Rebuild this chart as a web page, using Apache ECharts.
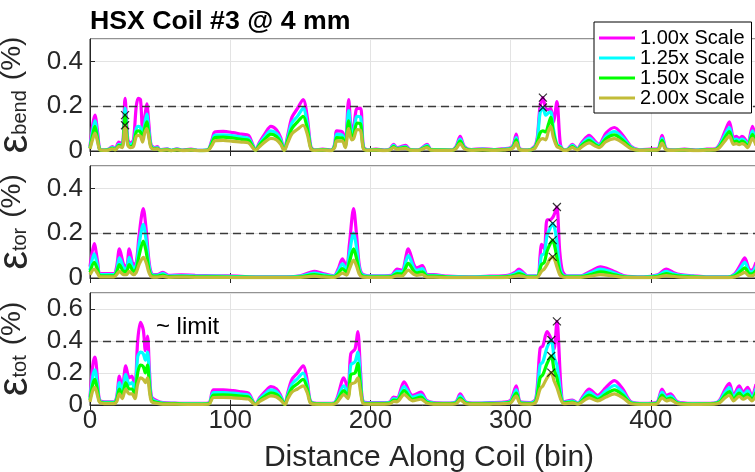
<!DOCTYPE html>
<html><head><meta charset="utf-8">
<script src="https://cdn.jsdelivr.net/npm/echarts@6/dist/echarts.min.js"></script>
<style>html,body{margin:0;padding:0;background:#fff}#c{width:755px;height:472px}</style>
</head><body><div id="c"></div>
<script>
// ---------------- DATA ----------------
const seriesNames = ['1.00x Scale', '1.25x Scale', '1.50x Scale', '2.00x Scale'];
const xTicks = [0, 100, 200, 300, 400];
const yLimits = [0.5, 0.5, 0.7];
const limitLines = [0.2, 0.2, 0.4];
const limitText = '~ limit';
const limitTextPos = [47, 0.488];

// Panel 1: bending strain
const bins1 = [0,2,3.5,5.5,7, 10,13,16,18,20.5, 23,25,27,29,31, 33,34.5,36,37.5,39, 40.5,42,43.5,46,48,
  50,55,58,62,66, 72,78,84,87,89, 95,102,108,113,116, 118,121,125,129,133, 136,138.5,141,144,148,
  152,155,157.5,160,166, 172,174.5,176,180,182, 184.5,186.5,188,190.5,193, 195,198,204,210,214,
  216.5,219,222,225,228, 234,240.5,243,250,258, 261,264,267,272,280, 288,295,300,302,304,
  306.5,312,317,319,321, 323,325,327,328.6,330.5, 333,335.5,338,341,344, 347.5,351,356,360,363,
  368,374,380,386,392, 400,405,408,411,416, 424,432,440,446,449, 453,456,459,461,463, 465,467,469,472.5,475];
const bend100 = [.02,.12,.16,.08,.01, .005,.008,.02,.01,.04, .03,.235,.05,.035,.05, .2,.235,.23,.1,.15, .21,.12,.03,.015,.02,
  .005,.01,.003,.01,.004, .008,.003,.006,.05,.085, .088,.082,.075,.07,.03, .005,.04,.08,.11,.095, .06,.005,.07,.15,.19,
  .23,.15,.02,.005,.008, .004,.03,.09,.085,.03, .23,.1,.11,.19,.19, .02,.005,.008,.004,.01,
  .03,.015,.02,.025,.008, .005,.03,.008,.006,.005, .02,.065,.02,.006,.01, .006,.01,.015,.03,.075,
  .01,.005,.02,.06,.2, .238,.19,.185,.19,.13, .22,.03,.005,.01,.03, .01,.04,.07,.045,.03,
  .08,.105,.07,.02,.005, .008,.01,.07,.01,.005, .008,.004,.008,.01,.03, .09,.13,.06,.065,.055, .065,.055,.03,.11,.05];
const bend125 = [.015,.095,.135,.06,.008, .004,.006,.015,.008,.03, .025,.19,.04,.03,.04, .1,.11,.105,.06,.12, .165,.09,.025,.012,.015,
  .004,.008,.003,.008,.003, .006,.003,.005,.04,.07, .072,.068,.062,.057,.025, .004,.033,.066,.09,.078, .05,.004,.058,.125,.155,
  .19,.12,.016,.004,.006, .003,.025,.075,.07,.025, .18,.08,.09,.155,.15, .016,.004,.006,.003,.008,
  .025,.012,.016,.02,.006, .004,.025,.006,.005,.004, .016,.053,.016,.005,.008, .005,.008,.012,.025,.06,
  .008,.004,.016,.05,.17, .194,.16,.17,.175,.1, .03,.02,.004,.008,.025, .008,.033,.058,.037,.025,
  .065,.087,.058,.016,.004, .006,.008,.057,.008,.004, .006,.003,.006,.008,.025, .074,.105,.05,.053,.045, .053,.045,.025,.09,.04];
const bend150 = [.012,.075,.11,.05,.006, .003,.005,.012,.006,.025, .02,.16,.03,.02,.03, .085,.09,.085,.05,.1, .13,.07,.02,.01,.012,
  .003,.006,.002,.006,.003, .005,.002,.004,.035,.06, .062,.058,.052,.048,.02, .003,.028,.055,.075,.065, .04,.003,.048,.1,.13,
  .155,.1,.013,.003,.005, .003,.02,.06,.058,.02, .135,.065,.07,.125,.12, .013,.003,.005,.003,.006,
  .02,.01,.013,.016,.005, .003,.02,.005,.004,.003, .013,.044,.013,.004,.006, .004,.006,.01,.02,.05,
  .006,.003,.013,.04,.08, .09,.085,.12,.15,.08, .025,.015,.003,.006,.02, .006,.027,.048,.03,.02,
  .055,.072,.048,.013,.003, .005,.006,.047,.006,.003, .005,.003,.005,.006,.02, .061,.087,.04,.044,.037, .044,.037,.02,.074,.033];
const bend200 = [.01,.055,.08,.04,.005, .003,.004,.01,.005,.02, .015,.115,.025,.015,.02, .065,.07,.065,.04,.08, .1,.06,.015,.008,.01,
  .003,.005,.002,.005,.002, .004,.002,.003,.025,.045, .047,.043,.04,.036,.015, .003,.02,.042,.056,.05, .03,.003,.036,.077,.097,
  .115,.075,.01,.003,.004, .002,.015,.045,.044,.015, .1,.05,.055,.095,.09, .01,.003,.004,.002,.005,
  .015,.008,.01,.012,.004, .003,.015,.004,.003,.003, .01,.033,.01,.003,.005, .003,.005,.008,.015,.038,
  .005,.003,.01,.03,.05, .055,.05,.09,.11,.06, .02,.012,.003,.005,.015, .005,.02,.036,.023,.015,
  .042,.055,.036,.01,.003, .004,.005,.035,.005,.003, .004,.002,.004,.005,.015, .046,.066,.03,.033,.028, .033,.028,.015,.056,.025];
const peakX1 = [323, 323, 25, 25];
const peakY1 = [0.238, 0.194, 0.16, 0.115];

// Panel 2: torsional strain
const bins2 = [0,3,5.5,7,12, 17,19,21,24,26, 28,31,33,35,38, 40,42,44,48,52, 56,65,75,90,105, 120,140,150,160,166,
  174,177,180,183,185, 188,190,192,194,200, 210,215,219,222.5,227, 231,233,237,240.5,245, 255,270,285,298,303,
  306,309,312,319,321, 322,324,326,328,330, 331.5,333,335,337,340, 350,357,364,372,381, 395,405,411,416,421,
  430,440,455,460,464, 467,470,472,475];
const tor100 = [.05,.154,.07,.02,.02, .02,.05,.13,.06,.05, .13,.06,.07,.19,.31, .22,.08,.02,.015,.025, .012,.014,.012,.01,.008, .005,.005,.01,.03,.02,
  .01,.04,.085,.05,.15, .31,.2,.06,.02,.01, .01,.012,.04,.035,.13, .06,.045,.055,.015,.015, .008,.005,.008,.012,.025,
  .04,.025,.01,.01,.1, .15,.13,.26,.26,.27, .29,.317,.12,.03,.01, .01,.03,.05,.035,.01, .005,.015,.04,.025,.015,
  .01,.005,.005,.02,.06, .09,.04,.035,.07];
const tor125 = [.035,.108,.05,.015,.015, .015,.035,.09,.045,.04, .092,.045,.055,.15,.24, .17,.06,.015,.012,.02, .009,.01,.009,.008,.006, .004,.004,.008,.022,.015,
  .008,.03,.063,.037,.11, .2,.14,.045,.015,.008, .008,.009,.03,.027,.1, .045,.034,.042,.012,.012, .006,.004,.006,.009,.019,
  .03,.019,.008,.008,.06, .1,.11,.19,.22,.244, .22,.16,.05,.015,.008, .008,.023,.04,.027,.008, .004,.012,.03,.019,.012,
  .008,.004,.004,.015,.045, .07,.03,.027,.053];
const tor150 = [.025,.07,.035,.01,.01, .01,.025,.06,.03,.03, .06,.03,.04,.1,.165, .12,.04,.01,.008,.013, .006,.007,.006,.005,.004, .003,.003,.005,.015,.01,
  .005,.02,.042,.025,.07, .13,.09,.03,.01,.005, .005,.006,.02,.018,.065, .03,.023,.028,.008,.008, .004,.003,.004,.006,.013,
  .02,.013,.005,.005,.04, .06,.07,.12,.15,.169, .14,.09,.03,.01,.005, .005,.015,.027,.018,.005, .003,.008,.02,.013,.008,
  .005,.003,.003,.01,.03, .045,.02,.018,.035];
const tor200 = [.015,.04,.02,.005,.005, .005,.015,.03,.015,.015, .03,.015,.025,.06,.092, .07,.025,.005,.004,.007, .003,.004,.003,.003,.002, .002,.002,.003,.008,.005,
  .003,.01,.022,.013,.04, .08,.055,.018,.005,.003, .003,.003,.01,.009,.035, .016,.012,.015,.004,.004, .002,.002,.002,.003,.007,
  .011,.007,.003,.003,.02, .03,.04,.06,.085,.094, .08,.05,.015,.005,.003, .003,.008,.015,.01,.003, .002,.004,.011,.007,.004,
  .003,.002,.002,.005,.016, .025,.01,.01,.02];
const peakX2 = [333, 330, 330, 330];
const peakY2 = [0.317, 0.244, 0.169, 0.094];

// Panel 3: total strain
const bins3 = [0,2,3.5,5.5,7, 12,17,19,21,23, 25.5,28,30,32,34, 36,38,39.5,41,42.5, 44,48,52,60,70, 80,85,88,95,102,
  108,113,118,121,125, 129,133,136,139,141, 144,148,152,155,157, 160,170,174,176.5,181, 184,186,189,191,193,
  195,200,210,214,216.5, 219,224,230,236,240, 245,255,261,264,268, 275,285,295,300,304, 307,314,318,321,323,
  326,329,331,333,336, 338,344,348,352,356, 362,368,374,380,386, 395,404,408,411,414, 419,430,445,449,453,
  456,459,463,466,469, 472,475];
const tot100 = [.05,.25,.3,.15,.03, .02,.02,.05,.18,.1, .245,.17,.18,.1,.4, .517,.47,.34,.43,.2, .05,.025,.015,.012,.01, .01,.015,.094,.095,.09,
  .082,.075,.005,.045,.085, .115,.1,.06,.005,.075, .16,.2,.245,.15,.03, .012,.01,.012,.05,.17, .1,.32,.35,.458,.2,
  .02,.015,.015,.02,.05, .045,.145,.06,.08,.03, .015,.012,.02,.07,.02, .012,.015,.018,.03,.12, .02,.015,.04,.354,.37,
  .458,.41,.35,.523,.1, .02,.03,.012,.06,.1, .06,.11,.152,.1,.02, .01,.015,.1,.06,.07, .02,.01,.012,.03,.1,
  .135,.06,.12,.08,.11, .06,.13];
const tot125 = [.04,.18,.22,.11,.025, .016,.016,.04,.14,.08, .19,.13,.14,.08,.3, .33,.32,.28,.33,.15, .04,.02,.012,.01,.008, .008,.012,.077,.078,.074,
  .068,.062,.004,.037,.07, .094,.082,.05,.004,.062, .13,.165,.2,.12,.025, .01,.008,.01,.04,.12, .075,.25,.27,.33,.15,
  .016,.012,.012,.016,.04, .036,.115,.048,.064,.024, .012,.01,.016,.056,.016, .01,.012,.014,.024,.095, .016,.012,.032,.25,.27,
  .36,.406,.3,.25,.06, .016,.024,.01,.048,.08, .048,.088,.122,.08,.016, .008,.012,.08,.048,.056, .016,.008,.01,.024,.08,
  .108,.048,.096,.064,.088, .048,.104];
const tot150 = [.03,.13,.16,.08,.02, .012,.012,.03,.1,.06, .14,.1,.1,.06,.2, .25,.24,.2,.25,.11, .03,.015,.009,.008,.006, .006,.009,.062,.063,.06,
  .055,.05,.003,.03,.056, .076,.066,.04,.003,.05, .105,.133,.16,.1,.02, .008,.006,.008,.03,.09, .055,.19,.2,.26,.11,
  .012,.009,.009,.012,.03, .028,.09,.036,.05,.018, .009,.008,.012,.043,.012, .008,.009,.011,.018,.075, .012,.009,.025,.17,.19,
  .26,.306,.22,.17,.04, .012,.018,.008,.036,.062, .036,.068,.095,.062,.012, .006,.009,.062,.036,.043, .012,.006,.008,.018,.062,
  .083,.036,.074,.05,.068, .036,.08];
const tot200 = [.02,.09,.11,.055,.015, .008,.008,.02,.07,.04, .1,.07,.07,.04,.13, .17,.16,.14,.17,.08, .02,.01,.006,.005,.004, .004,.006,.047,.048,.045,
  .041,.037,.003,.022,.042, .057,.05,.03,.003,.037, .08,.1,.12,.075,.015, .005,.004,.005,.02,.065, .04,.13,.14,.17,.08,
  .008,.006,.006,.008,.022, .02,.065,.026,.036,.013, .006,.005,.008,.032,.008, .005,.006,.008,.013,.055, .008,.006,.018,.1,.12,
  .17,.202,.15,.11,.03, .008,.013,.005,.026,.045, .026,.05,.07,.045,.008, .004,.006,.045,.026,.032, .008,.004,.005,.013,.045,
  .061,.026,.054,.036,.05, .026,.058];
const peakX3 = [333, 329, 329, 329];
const peakY3 = [0.523, 0.406, 0.306, 0.202];

// ---------------- STYLE ----------------
const FONT = '"Liberation Sans", Arial, Helvetica, sans-serif';
const TXT = '#262626';
const colors = ['#FF00FF', '#00FFFF', '#00FF00', '#C2BC38'];
const gridTops = [39, 166, 293];
const subs = ['bend', 'tor', 'tot'];

const panels = [
  {bins: bins1, vals: [bend100, bend125, bend150, bend200], px: peakX1, py: peakY1},
  {bins: bins2, vals: [tor100, tor125, tor150, tor200], px: peakX2, py: peakY2},
  {bins: bins3, vals: [tot100, tot125, tot150, tot200], px: peakX3, py: peakY3}
];

const grid = [], xAxis = [], yAxis = [], series = [];
panels.forEach((p, i) => {
  grid.push({left: 90, top: gridTops[i], width: 666, height: 112, show: true,
    containLabel: false, outerBoundsMode: 'none',
    borderColor: TXT, borderWidth: 1, backgroundColor: 'transparent'});
  xAxis.push({
    type: 'value', gridIndex: i, min: 0, max: 475, interval: 100, position: 'bottom',
    axisLine: {show: true, onZero: false, lineStyle: {color: TXT, width: 1}},
    axisTick: {show: true, inside: true, length: 5, lineStyle: {color: TXT}},
    axisLabel: {show: i === 2, fontSize: 26, color: TXT, fontFamily: FONT, margin: 3, showMaxLabel: false,
      formatter: v => (xTicks.indexOf(v) >= 0 ? String(v) : '')},
    splitLine: {show: true, lineStyle: {color: '#e3e3e3', width: 1}},
    name: i === 2 ? 'Distance Along Coil (bin)' : '', nameLocation: 'middle', nameGap: 38,
    nameTextStyle: {fontSize: 30, color: TXT, fontFamily: FONT, padding: [0, 0, 0, 12]}
  });
  yAxis.push({
    type: 'value', gridIndex: i, min: 0, max: yLimits[i], interval: 0.2,
    axisLine: {show: true, onZero: false, lineStyle: {color: TXT, width: 1}},
    axisTick: {show: true, inside: true, length: 5, lineStyle: {color: TXT}},
    axisLabel: {fontSize: 26, color: TXT, fontFamily: FONT, margin: 7, showMaxLabel: false},
    splitLine: {show: true, lineStyle: {color: '#e3e3e3', width: 1}},
    name: '{e|ε}{s|' + subs[i] + '}{p|(%)}', nameLocation: 'middle', nameGap: 52,
    nameTextStyle: {color: TXT, fontFamily: FONT, rich: {
      e: {fontSize: 42, color: TXT, fontFamily: FONT, verticalAlign: 'bottom'},
      s: {fontSize: 20, color: TXT, fontFamily: FONT, verticalAlign: 'bottom', padding: [0, 0, 5, 0]},
      p: {fontSize: 28, color: TXT, fontFamily: FONT, verticalAlign: 'bottom', padding: [0, 0, 10, 10]}
    }}
  });
  p.vals.forEach((vals, s) => {
    const ser = {
      type: 'line', name: seriesNames[s], xAxisIndex: i, yAxisIndex: i,
      data: p.bins.map((b, k) => [b, vals[k]]),
      showSymbol: false, symbol: 'none', smooth: 0.3,
      lineStyle: {width: 3.2, color: colors[s]}, itemStyle: {color: colors[s]},
      emphasis: {disabled: true}, silent: true
    };
    if (s === 0) {
      ser.markLine = {silent: true, symbol: ['none', 'none'], label: {show: false},
        lineStyle: {type: [8, 5], color: '#3a3a3a', width: 1.3}, data: [{yAxis: limitLines[i]}]};
      if (i === 2) {
        ser.markPoint = {symbol: 'circle', symbolSize: 0, silent: true,
          label: {show: true, position: 'right', distance: 0, formatter: limitText,
            fontSize: 24, color: '#000', fontFamily: FONT},
          data: [{coord: limitTextPos}]};
      }
    }
    series.push(ser);
  });
  series.push({
    type: 'scatter', name: 'peak' + i, xAxisIndex: i, yAxisIndex: i,
    data: p.px.map((x, k) => [x, p.py[k]]),
    symbol: 'path://M0,0L10,10M10,0L0,10', symbolSize: 8,
    itemStyle: {color: 'transparent', borderColor: '#000', borderWidth: 1.2},
    z: 5, silent: true
  });
});
// top tick axes
panels.forEach((p, i) => {
  xAxis.push({type: 'value', gridIndex: i, min: 0, max: 475, interval: 100, position: 'top',
    axisLine: {show: false}, axisTick: {show: true, inside: true, length: 5, lineStyle: {color: TXT}},
    axisLabel: {show: false}, splitLine: {show: false}});
});

const chart = echarts.init(document.getElementById('c'), null, {renderer: 'canvas'});
chart.setOption({
  animation: false,
  backgroundColor: '#fff',
  title: {text: 'HSX Coil #3 @ 4 mm', left: 90, top: 8, padding: 0,
    textStyle: {fontSize: 26.7, fontWeight: 'bold', color: '#000', fontFamily: FONT}},
  legend: {data: seriesNames, orient: 'vertical', left: 594, top: 22, padding: [6, 7, 5, 5],
    itemGap: 0, itemWidth: 36, itemHeight: 3, icon: 'rect', selectedMode: false,
    backgroundColor: '#fff', borderColor: '#000', borderWidth: 1, z: 20,
    textStyle: {fontSize: 20, color: '#000', fontFamily: FONT, lineHeight: 20}},
  grid, xAxis, yAxis, series
});
</script></body></html>
